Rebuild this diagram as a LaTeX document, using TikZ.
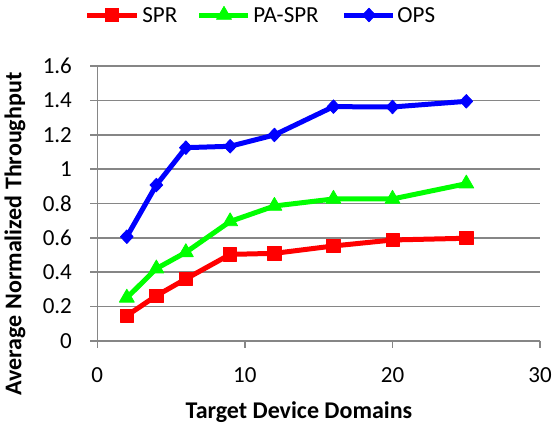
\documentclass[tikz,border=0pt]{standalone}
\usepackage{fontspec}
\setmainfont{Carlito}
\usetikzlibrary{plotmarks}

\definecolor{sprred}{RGB}{255,0,0}
\definecolor{pasprgreen}{RGB}{0,255,0}
\definecolor{opsblue}{RGB}{0,0,255}
\definecolor{gridgray}{RGB}{134,134,134}

\tikzset{
  gridline/.style={draw=gridgray, line width=0.8pt},
  ticklabel/.style={inner sep=0pt, font=\fontsize{11.5}{13}\selectfont},
  axistitle/.style={inner sep=0pt, font=\fontsize{12}{14}\selectfont\bfseries},
  legendtext/.style={inner sep=0pt, anchor=west, font=\fontsize{11.5}{13}\selectfont},
  series/.style={line width=2.5pt, line join=round},
  sprline/.style={series, draw=sprred, mark=square*, mark size=3.3pt,
    mark options={fill=sprred, draw=sprred, line width=0.4pt}},
  pasprline/.style={series, draw=pasprgreen, mark=triangle*, mark size=4.3pt,
    mark options={fill=pasprgreen, draw=pasprgreen, line width=0.4pt}},
  opsline/.style={series, draw=opsblue, mark=diamond*, mark size=3.4pt,
    mark options={fill=opsblue, draw=opsblue, line width=0.4pt, xscale=1.25}}
}

\begin{document}
\begin{tikzpicture}[x=0.5pt,y=0.5pt]
\useasboundingbox (0,0) rectangle (556,430);

% Axis titles
\node[axistitle] (xtitle) at (299,18) {Target Device Domains};
\node[axistitle, rotate=90] (ytitle) at (15,196) {Average Normalized Throughput};

% Legend
\draw[sprline] (87,415) -- (137,415);
\path[sprline, draw=none] plot coordinates {(112,415)};
\node[legendtext] (legspr) at (142,415) {SPR};
\draw[pasprline] (199,415) -- (248,415);
\path[pasprline, draw=none] plot coordinates {(224,415)};
\node[legendtext] (legpaspr) at (253,415) {PA-SPR};
\draw[opsline] (344,415) -- (393,415);
\path[opsline, draw=none] plot coordinates {(369,415)};
\node[legendtext] (legops) at (397,415) {OPS};

\begin{scope}[shift={(97.3,89.3)}, x=7.38pt, y=85.8pt]
% Grid and y ticks
\foreach \v in {0,0.2,0.4,0.6,0.8,1,1.2,1.4,1.6} {
  \draw[gridline] ([xshift=-3.5pt]0,\v) -- (30,\v);
  \node[ticklabel, anchor=east] (ytick\v) at ([xshift=-12.5pt]0,\v) {\v};
}
\draw[gridline] (0,0) -- (0,1.6);

% x ticks
\foreach \t in {0,10,20,30} {
  \draw[gridline] (\t,0) -- ([yshift=-3.5pt]\t,0);
  \node[ticklabel, anchor=north] (xtick\t) at ([yshift=-13pt]\t,0) {\t};
}

% Data
\draw[sprline] plot coordinates {(2,0.146) (4,0.262) (6,0.36) (9,0.503) (12,0.509) (16,0.552) (20,0.587) (25,0.597)};
\draw[pasprline] plot coordinates {(2,0.25) (4,0.42) (6,0.515) (9,0.695) (12,0.785) (16,0.826) (20,0.826) (25,0.915)};
\draw[opsline] plot coordinates {(2,0.606) (4,0.907) (6,1.125) (9,1.133) (12,1.199) (16,1.364) (20,1.362) (25,1.395)};
\end{scope}

\end{tikzpicture}
\end{document}
